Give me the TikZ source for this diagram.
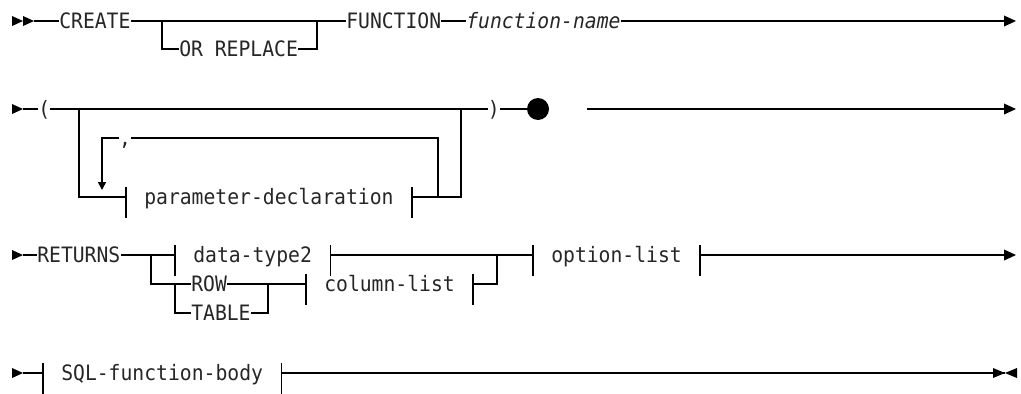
\documentclass[tikz,border=0pt]{standalone}
\usepackage{fontspec}
\newfontfamily\railfont[FakeStretch=0.93]{DejaVu Sans Mono}
\usetikzlibrary{arrows.meta}

\begin{document}
\begin{tikzpicture}[
x=0.75pt,
y=-0.75pt,
every node/.style={font=\railfont\fontsize{15.9}{17}\selectfont,inner sep=0pt,text height=10.5pt,text depth=0pt,text=black!85},
kw/.style={anchor=west},
var/.style={anchor=west,font=\railfont\itshape\fontsize{15.9}{17}\selectfont},
frag/.style={anchor=west,inner xsep=13.5pt},
dot/.style={circle,fill,minimum size=16.5pt},
rail/.style={line width=1.1pt},
endarr/.style={rail,-{Triangle[length=9pt,width=8pt]}},
looparr/.style={rail,-{Triangle[length=6pt,width=6pt]}}
]
\useasboundingbox (0,0) rectangle (1021,393);

% row 1: CREATE ... FUNCTION
\fill (12,16) -- (23,21) -- (12,26) -- cycle;
\fill (23,16) -- (34,21) -- (23,26) -- cycle;
\coordinate (s1) at (34,21);
\node[kw] (create) at (59,21) {CREATE};
\node[kw] (orrep) at (179,49) {OR REPLACE};
\node[kw] (function) at (346,21) {FUNCTION};
\node[var] (fname) at (466,21) {function-name};
\coordinate (b1) at (162,21);
\coordinate (m1) at (317,21);
\coordinate (e1) at (1016,21);
\draw[rail] (s1) -- (create.west);
\draw[rail] (create.east) -- (function.west);
\draw[rail] (b1) |- (orrep.west);
\draw[rail] (orrep.east) -| (m1);
\draw[rail] (function.east) -- (fname.west);
\draw[endarr] (fname.east) -- (e1);

% row 2: parameter list
\fill (12,104) -- (23,109) -- (12,114) -- cycle;
\coordinate (s2) at (23,109);
\node[kw] (lparen) at (38,109) {(};
\node[kw] (rparen) at (487.5,109) {)};
\node[dot] (stop) at (538,109) {};
\node[frag] (pdecl) at (126,197) {parameter-declaration};
\node (comma) at (125,138) {,};
\coordinate (p1) at (79,109);
\coordinate (p2) at (461,109);
\coordinate (lp) at (438,197);
\coordinate (lq) at (102,190);
\coordinate (g2) at (587,109);
\coordinate (e2) at (1016,109);
\draw[rail] (s2) -- (lparen.west);
\draw[rail] (lparen.east) -- (rparen.west);
\draw[rail] (p1) |- (pdecl.west);
\draw[rail] (pdecl.east) -| (p2);
\draw[rail] (lp) |- (comma.east);
\draw[looparr] (comma.west) -| (lq);
\draw[rail] (rparen.east) -- (stop);
\draw[endarr] (g2) -- (e2);

% row 3: RETURNS
\fill (12,250) -- (23,255) -- (12,260) -- cycle;
\coordinate (s3) at (23,255);
\node[kw] (returns) at (37,255) {RETURNS};
\node[frag] (dtype) at (175,255) {data-type2};
\node[kw] (row) at (191,284) {ROW};
\node[kw] (table) at (191,313) {TABLE};
\node[frag] (collist) at (306,284) {column-list};
\node[frag] (optlist) at (533,255) {option-list};
\coordinate (r1) at (151,255);
\coordinate (r2) at (175,284);
\coordinate (rj) at (268,284);
\coordinate (cj) at (497,255);
\coordinate (e3) at (1016,255);
\draw[rail] (s3) -- (returns.west);
\draw[rail] (returns.east) -- (dtype.west);
\draw[rail] (dtype.east) -- (optlist.west);
\draw[endarr] (optlist.east) -- (e3);
\draw[rail] (r1) |- (row.west);
\draw[rail] (r2) |- (table.west);
\draw[rail] (table.east) -| (rj);
\draw[rail] (row.east) -- (collist.west);
\draw[rail] (collist.east) -| (cj);

% row 4: body
\fill (12,368) -- (23,373) -- (12,378) -- cycle;
\coordinate (s4) at (23,373);
\node[frag] (sqlbody) at (43,373) {SQL-function-body};
\coordinate (e4) at (1005,373);
\draw[rail] (s4) -- (sqlbody.west);
\draw[rail] (sqlbody.east) -- (e4);
\fill (993,368) -- (1005,373) -- (993,378) -- cycle;
\fill (1017,368) -- (1005,373) -- (1017,378) -- cycle;

% fragment bars
\foreach \f in {pdecl,dtype,collist,optlist,sqlbody} {
  \draw[rail] (\f.west) ++(0,-10) -- ++(0,31);
  \draw[rail] (\f.east) ++(0,-10) -- ++(0,31);
}
\end{tikzpicture}
\end{document}
